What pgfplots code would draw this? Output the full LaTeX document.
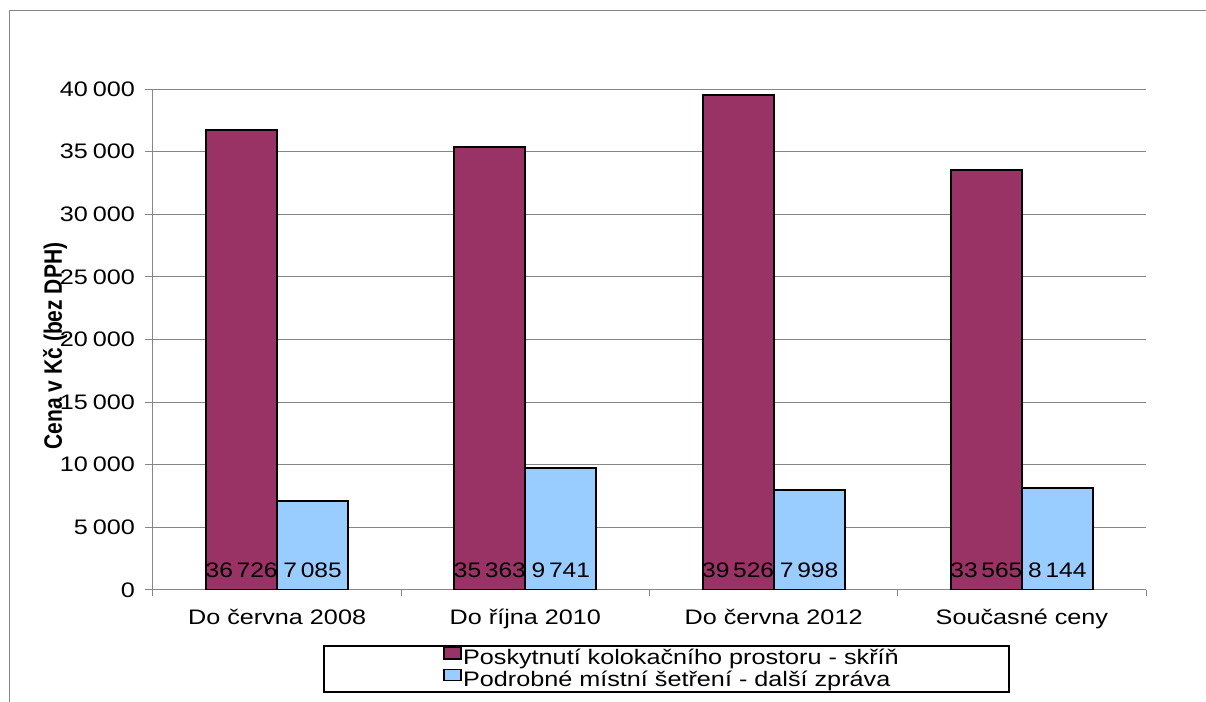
\documentclass[border=0pt]{standalone}
\usepackage{fontspec}
\setmainfont{Liberation Sans}[BoldFont={Liberation Sans Bold}]
\usepackage{graphicx}
\usepackage{pgfplots}
\pgfplotsset{compat=1.18}
\definecolor{maroon}{HTML}{993366}
\definecolor{lblue}{HTML}{99CCFF}
\definecolor{gridgray}{HTML}{868686}
\newcommand{\hs}[1]{\scalebox{1.2}[1]{#1}}
\newcommand{\hb}[1]{\scalebox{1.17}[1]{#1}}
\begin{document}
\begin{tikzpicture}[font=\fontsize{10.5}{12.6}\selectfont]
\path[use as bounding box] (0,0) rectangle (603pt,351pt);
\begin{axis}[
  at={(76.5pt,56pt)}, anchor=south west,
  scale only axis, width=496.5pt, height=250.5pt,
  ybar=0pt, bar width=35.5pt,
  xmin=-0.5, xmax=3.5, ymin=0, ymax=40000,
  axis lines=left, axis line style={-, draw=gridgray, line width=0.5pt},
  tick align=outside,
  xtick={0,1,2,3},
  xticklabels={\hs{Do června 2008},\hs{Do října 2010},\hs{Do června 2012},\hs{Současné ceny}},
  major x tick style={draw=none},
  minor xtick={-0.5,0.5,1.5,2.5,3.5},
  minor x tick style={draw=gridgray, line width=0.5pt},
  minor tick length=3pt,
  major tick length=4pt,
  ytick={0,5000,...,40000},
  scaled y ticks=false,
  yticklabel={\hs{\pgfmathprintnumber[assume math mode=true,fixed,1000 sep={\hspace{0.2em}}]{\tick}}},
  ytick style={draw=gridgray, line width=0.5pt},
  ymajorgrids, grid style={draw=gridgray, line width=0.5pt},
  xticklabel style={yshift=-2pt},
  yticklabel style={xshift=-1.5pt},
  ylabel={\scalebox{1}[1.2]{\bfseries Cena v Kč (bez DPH)}},
  ylabel style={at={(axis description cs:-0.0987,0.487)}, anchor=center},
  legend style={at={(axis description cs:0.1712,-0.1098)}, anchor=north west,
    draw=black, line width=0.9pt, inner xsep=0pt, inner ysep=0.6pt,
    row sep=-0.2pt, column sep=0pt, nodes={inner sep=0.8pt}},
  legend cell align=left,
]
\addplot[fill=maroon, draw=black, line width=0.9pt, bar shift=-17.75pt,
  legend image code/.code={\path[draw=none,fill=none] (0pt,0pt) -- (60pt,0pt);
    \draw[fill=maroon,draw=black,line width=0.6pt] (60pt,-0.3pt) rectangle (68.5pt,5.3pt);}]
  coordinates {(0,36726) (1,35363) (2,39526) (3,33565)};
\addlegendentry{\makebox[272pt][l]{\hs{Poskytnutí kolokačního prostoru - skříň}}}
\addplot[fill=lblue, draw=black, line width=0.9pt, bar shift=17.75pt,
  legend image code/.code={\path[draw=none,fill=none] (0pt,0pt) -- (60pt,0pt);
    \draw[fill=lblue,draw=black,line width=0.6pt] (60pt,-0.3pt) rectangle (68.5pt,5.3pt);}]
  coordinates {(0,7085) (1,9741) (2,7998) (3,8144)};
\addlegendentry{\makebox[272pt][l]{\hs{Podrobné místní šetření - další zpráva}}}
\addplot[draw=none, fill=none, forget plot, bar shift=-17.75pt, point meta=explicit,
  nodes near coords={\hb{\pgfmathprintnumber[assume math mode=true,fixed,1000 sep={\hspace{0.15em}}]{\pgfplotspointmeta}}},
  nodes near coords style={anchor=south, yshift=2.5pt, inner sep=3.5pt, text=black}]
  coordinates {(0,0) [36726] (1,0) [35363] (2,0) [39526] (3,0) [33565]};
\addplot[draw=none, fill=none, forget plot, bar shift=17.75pt, point meta=explicit,
  nodes near coords={\hb{\pgfmathprintnumber[assume math mode=true,fixed,1000 sep={\hspace{0.15em}}]{\pgfplotspointmeta}}},
  nodes near coords style={anchor=south, yshift=2.5pt, inner sep=3.5pt, text=black}]
  coordinates {(0,0) [7085] (1,0) [9741] (2,0) [7998] (3,0) [8144]};
\end{axis}
\draw[gridgray, line width=0.5pt] (603pt,345.5pt) -- (4.5pt,345.5pt) -- (4.5pt,0pt);
\end{tikzpicture}
\end{document}
